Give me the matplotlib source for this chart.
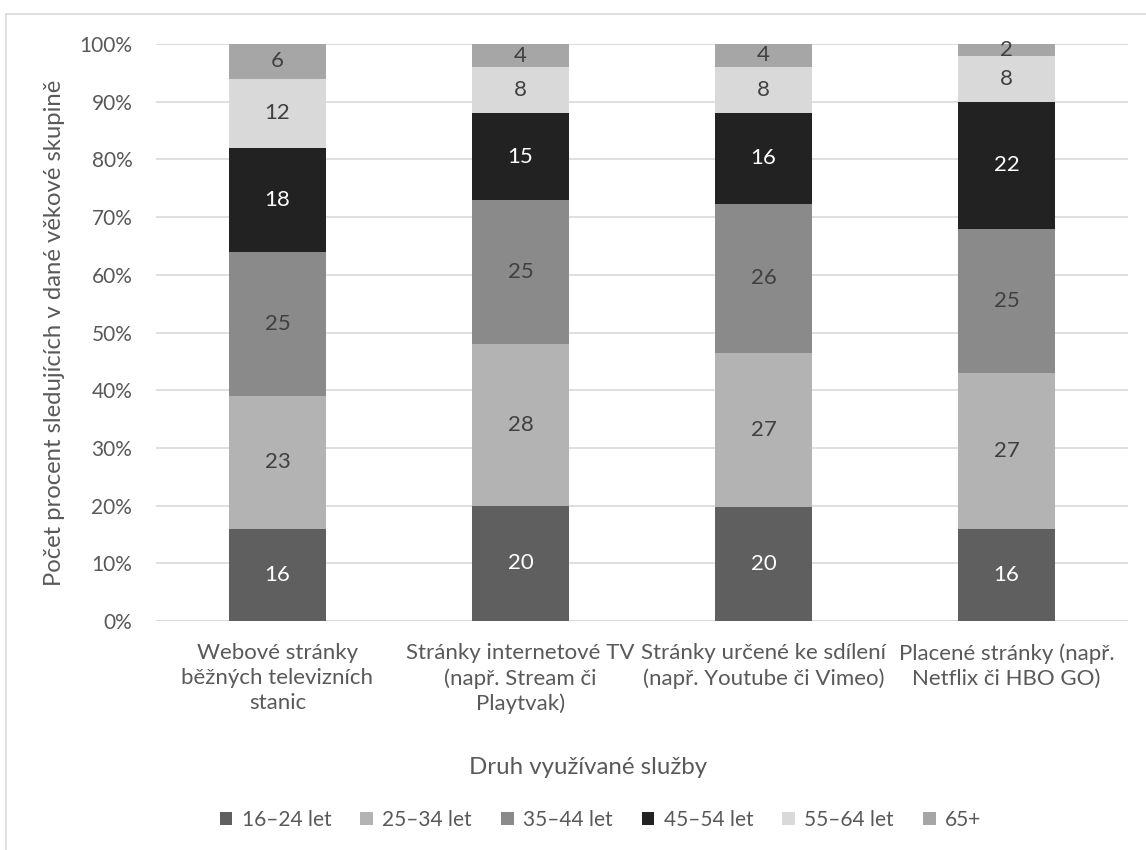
import numpy as np
import matplotlib
matplotlib.use('Agg')
import matplotlib.pyplot as plt
from matplotlib.patches import Rectangle

plt.rcParams['font.family'] = ['Lato', 'DejaVu Sans']

# Data: number of viewers per age group for each service type
categories = ['Webové stránky\nběžných televizních\nstanic',
              'Stránky internetové TV\n(např. Stream či\nPlaytvak)',
              'Stránky určené ke sdílení\n(např. Youtube či Vimeo)',
              'Placené stránky (např.\nNetflix či HBO GO)']
age_groups = ['16–24 let', '25–34 let', '35–44 let', '45–54 let', '55–64 let', '65+']
v_16_24 = [16, 20, 20, 16]
v_25_34 = [23, 28, 27, 27]
v_35_44 = [25, 25, 26, 25]
v_45_54 = [18, 15, 16, 22]
v_55_64 = [12, 8, 8, 8]
v_65 = [6, 4, 4, 2]

series = [v_16_24, v_25_34, v_35_44, v_45_54, v_55_64, v_65]
colors = ['#5f5f5f', '#b3b3b3', '#8a8a8a', '#222222', '#d9d9d9', '#a6a6a6']
label_colors = ['white', '#404040', '#404040', 'white', '#404040', '#404040']
text_col = '#595959'

vals = np.array(series, dtype=float)
pct = vals / vals.sum(axis=0) * 100  # 100% stacked

fig = plt.figure(figsize=(11.46, 8.5), dpi=100)
ax = fig.add_axes([0.1361, 0.2694, 0.8482, 0.6788])

x = np.arange(len(categories))
bottom = np.zeros(len(categories))
handles = []
for i, name in enumerate(age_groups):
    bars = ax.bar(x, pct[i], bottom=bottom, width=0.4, color=colors[i],
                  label=name, zorder=3)
    handles.append(bars)
    for j in range(len(x)):
        ax.text(x[j], bottom[j] + pct[i][j] / 2, f'{int(vals[i][j])}',
                ha='center', va='center', fontsize=16, color=label_colors[i],
                zorder=4)
    bottom += pct[i]

ax.set_xlim(-0.5, 3.5)
ax.set_ylim(0, 100)
ax.set_yticks(np.arange(0, 101, 10))
ax.set_yticklabels([f'{t}%' for t in range(0, 101, 10)])
ax.yaxis.grid(True, color='#d9d9d9', linewidth=1.2, zorder=0)
ax.set_xticks(x)
ax.set_xticklabels(categories, fontsize=16, color=text_col, linespacing=1.3)
ax.tick_params(axis='y', labelsize=15, colors=text_col, length=0, pad=17)
ax.tick_params(axis='x', length=0, pad=16)
for s in ax.spines.values():
    s.set_visible(False)
ax.axhline(0, color='#d9d9d9', linewidth=1.2, zorder=2)

ax.set_ylabel('Počet procent sledujících v dané věkové skupině', fontsize=17.2,
              color=text_col, labelpad=10)
fig.text(0.513, 1 - 767 / 850, 'Druh využívané služby',
         ha='center', va='center', fontsize=17.3, color=text_col)

fig.legend(handles=handles, labels=age_groups, loc='center',
           bbox_to_anchor=(0.524, 1 - 820 / 850),
           ncol=6, frameon=False, fontsize=15, handlelength=0.6,
           handleheight=0.6, handletextpad=0.45, columnspacing=1.4,
           labelcolor=text_col)

# chart border
fig.patches.append(Rectangle((6 / 1146, -0.01), 1.2, 1 - 14 / 850 + 0.01,
                             transform=fig.transFigure, fill=False,
                             edgecolor='#d9d9d9', linewidth=1.2))

fig.savefig('out.png', dpi=100)
